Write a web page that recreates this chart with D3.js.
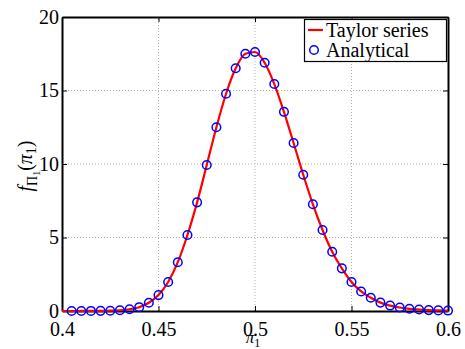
<!DOCTYPE html>
<html>
<head>
<meta charset="utf-8">
<script src="https://cdn.jsdelivr.net/npm/d3@7"></script>
<style>
  body { margin: 0; background: #fff; }
  text { font-family: "Liberation Serif", "DejaVu Serif", serif; }
</style>
</head>
<body>
<div id="chart"></div>
<script>
const xTicks = [0.4, 0.45, 0.5, 0.55, 0.6];
const yTicks = [0, 5, 10, 15, 20];

// Taylor series curve, sampled every 0.005 from 0.4 to 0.6
const taylorX = [0.4, 0.405, 0.41, 0.415, 0.42, 0.425, 0.43, 0.435, 0.44, 0.445,
  0.45, 0.455, 0.46, 0.465, 0.47, 0.475, 0.48, 0.485, 0.49, 0.495,
  0.5, 0.505, 0.51, 0.515, 0.52, 0.525, 0.53, 0.535, 0.54, 0.545,
  0.55, 0.555, 0.56, 0.565, 0.57, 0.575, 0.58, 0.585, 0.59, 0.595, 0.6];
const taylorY = [0.0005, 0.001, 0.002, 0.005, 0.01, 0.02, 0.05, 0.12, 0.26, 0.56,
  1.08, 1.97, 3.32, 5.17, 7.39, 9.93, 12.5, 14.78, 16.51, 17.5,
  17.62, 16.89, 15.44, 13.55, 11.43, 9.27, 7.26, 5.51, 4.03, 2.9,
  1.97, 1.33, 0.9, 0.57, 0.37, 0.24, 0.15, 0.1, 0.06, 0.04, 0.03];

// Analytical points (markers)
const analyticalX = taylorX.slice(1);
const analyticalY = taylorY.slice(1);

const width = 465, height = 349;
const margin = {left: 62, right: 17, top: 17, bottom: 38};

const svg = d3.select('#chart')
    .append('svg')
    .attr('width', width)
    .attr('height', height);

const x = d3.scaleLinear().domain([0.4, 0.6]).range([margin.left, width - margin.right]);
const y = d3.scaleLinear().domain([0, 20]).range([height - margin.bottom, margin.top]);

// grid
const grid = svg.append('g');
grid.selectAll('.gx')
    .data(xTicks.slice(1, -1))
    .enter()
    .append('line')
    .attr('x1', d => x(d)).attr('x2', d => x(d))
    .attr('y1', y(0)).attr('y2', y(20))
    .attr('stroke', '#b0b0b0')
    .attr('stroke-width', 1)
    .attr('stroke-dasharray', '1,2');
grid.selectAll('.gy')
    .data(yTicks.slice(1, -1))
    .enter()
    .append('line')
    .attr('x1', x(0.4)).attr('x2', x(0.6))
    .attr('y1', d => y(d)).attr('y2', d => y(d))
    .attr('stroke', '#b0b0b0')
    .attr('stroke-width', 1)
    .attr('stroke-dasharray', '1,2');

// axes with inward ticks (MATLAB style)
const xAxis = svg.append('g')
    .attr('transform', `translate(0,${y(0)})`)
    .call(d3.axisBottom(x).tickValues(xTicks).tickSizeInner(-5).tickSizeOuter(0).tickPadding(11).tickFormat(d3.format('')));
const xAxisTop = svg.append('g')
    .attr('transform', `translate(0,${y(20)})`)
    .call(d3.axisTop(x).tickValues(xTicks).tickSizeInner(-5).tickSizeOuter(0).tickFormat(''));
const yAxis = svg.append('g')
    .attr('transform', `translate(${x(0.4)},0)`)
    .call(d3.axisLeft(y).tickValues(yTicks).tickSizeInner(-5).tickSizeOuter(0).tickPadding(3));
const yAxisRight = svg.append('g')
    .attr('transform', `translate(${x(0.6)},0)`)
    .call(d3.axisRight(y).tickValues(yTicks).tickSizeInner(-5).tickSizeOuter(0).tickFormat(''));

[xAxis, xAxisTop, yAxis, yAxisRight].forEach(a => {
  a.select('.domain').attr('stroke', '#000').attr('stroke-width', 2);
  a.selectAll('.tick line').attr('stroke', '#000').attr('stroke-width', 1);
  a.selectAll('text').style('font-family', '"Liberation Serif", serif').style('font-size', '20px').attr('fill', '#000');
});
yAxis.selectAll('text').attr('dy', '0.3em');

// Taylor series line
const line = d3.line()
    .x((d, i) => x(taylorX[i]))
    .y(d => y(d))
    .curve(d3.curveMonotoneX);

svg.append('path')
    .datum(taylorY)
    .attr('d', line)
    .attr('fill', 'none')
    .attr('stroke', '#ff0000')
    .attr('stroke-width', 2.2);

// Analytical markers
svg.selectAll('.pt')
    .data(analyticalY)
    .enter()
    .append('circle')
    .attr('cx', (d, i) => x(analyticalX[i]))
    .attr('cy', d => y(d))
    .attr('r', 4.3)
    .attr('fill', 'none')
    .attr('stroke', '#0000ff')
    .attr('stroke-width', 1.5);

// axis labels
svg.append('text')
    .attr('x', x(0.5) - 2)
    .attr('y', 343)
    .attr('text-anchor', 'middle')
    .style('font-size', '17px')
    .html('<tspan font-style="italic">π</tspan><tspan font-size="12px" dy="4">1</tspan>');

svg.append('text')
    .attr('transform', `translate(32,${y(10) + 2}) rotate(-90)`)
    .attr('text-anchor', 'middle')
    .style('font-size', '20px')
    .html('<tspan font-style="italic">f</tspan><tspan font-size="14px" dy="5">Π</tspan><tspan font-size="10px" dy="3">1</tspan><tspan dy="-8">(</tspan><tspan font-style="italic">π</tspan><tspan font-size="14px" dy="4">1</tspan><tspan dy="-4">)</tspan>');

// legend
const legend = svg.append('g');
legend.append('rect')
    .attr('x', 304.5).attr('y', 19.5)
    .attr('width', 142).attr('height', 42)
    .attr('fill', '#fff')
    .attr('stroke', '#000')
    .attr('stroke-width', 1.2);
legend.append('line')
    .attr('x1', 308).attr('x2', 323)
    .attr('y1', 30).attr('y2', 30)
    .attr('stroke', '#ff0000')
    .attr('stroke-width', 2.2);
legend.append('text')
    .attr('x', 326).attr('y', 37)
    .style('font-size', '20px')
    .text('Taylor series');
legend.append('circle')
    .attr('cx', 314).attr('cy', 50)
    .attr('r', 4.3)
    .attr('fill', 'none')
    .attr('stroke', '#0000ff')
    .attr('stroke-width', 1.5);
legend.append('text')
    .attr('x', 326).attr('y', 57)
    .style('font-size', '20px')
    .text('Analytical');
</script>
</body>
</html>
